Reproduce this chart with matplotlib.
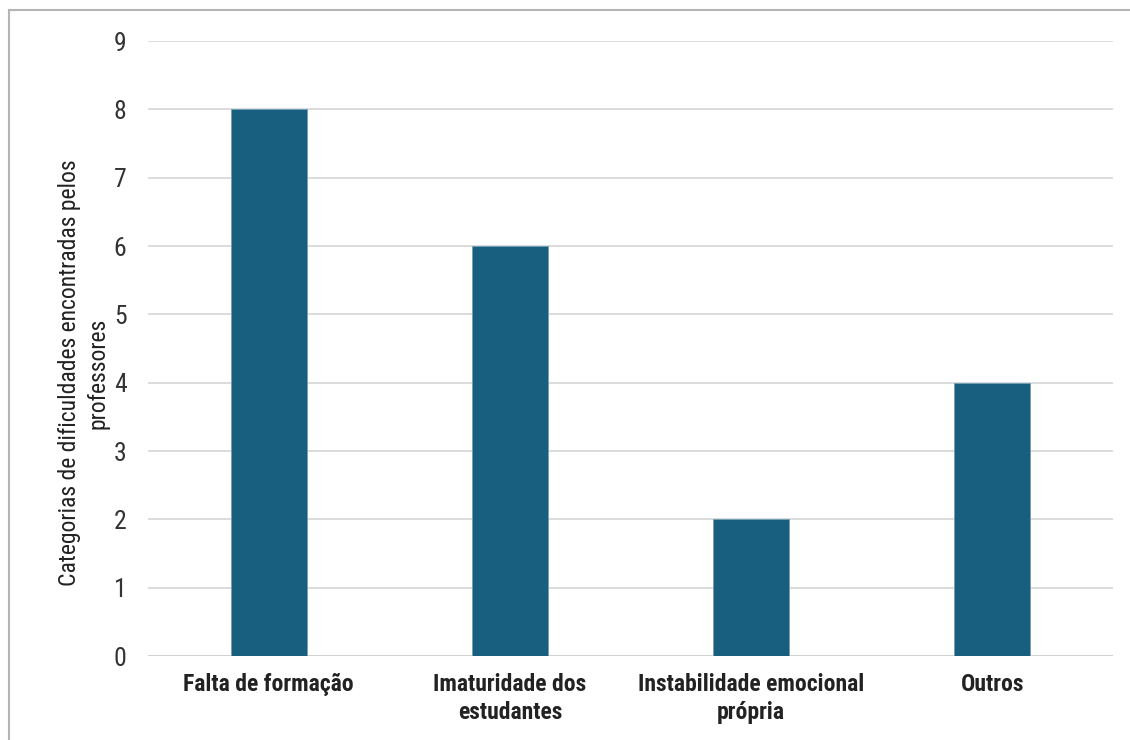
import matplotlib
matplotlib.use("Agg")
import matplotlib.pyplot as plt
from matplotlib.patches import Rectangle

categories = ["Falta de formação", "Imaturidade dos\nestudantes",
              "Instabilidade emocional\nprópria", "Outros"]
values = [8, 6, 2, 4]
yticks = list(range(0, 10))
ylabel = "Categorias de dificuldades encontradas pelos\nprofessores"

plt.rcParams['font.family'] = ['Roboto Condensed', 'DejaVu Sans']

fig = plt.figure(figsize=(11.3, 7.4), dpi=100)
ax = fig.add_axes([148/1130, 1 - 656/740, (1113-148)/1130, (656-41)/740])

x = range(len(categories))
ax.bar(x, values, width=0.315, color="#185f7f", edgecolor="#6f9fb8",
       linewidth=0.6, zorder=3)

ax.set_xlim(-0.5, len(categories) - 0.5)
ax.set_ylim(0, 9)
ax.set_yticks(yticks)
ax.set_yticklabels([str(t) for t in yticks], fontsize=18.5, color="#333333")
ax.set_xticks(list(x))
ax.set_xticklabels(categories, fontsize=17, fontweight="bold", color="#222222",
                   linespacing=1.3)
ax.tick_params(axis="both", length=0)
ax.tick_params(axis="y", pad=15.5)
ax.tick_params(axis="x", pad=12)
ax.grid(axis="y", color="#d9d9d9", linewidth=1.3, zorder=0)
for s in ax.spines.values():
    s.set_visible(False)
ax.axhline(0, color="#d0d0d0", linewidth=1.3, zorder=2)

ax.set_ylabel(ylabel, fontsize=17, color="#222222", linespacing=1.3)
ax.yaxis.set_label_coords(-0.040, 0.46)

# outer frame
fig.patches.append(Rectangle((9/1130, -0.1), 2, 1 - 10/740 + 0.1,
                             transform=fig.transFigure, fill=False,
                             edgecolor="#b5b5b5", linewidth=1.5))

fig.savefig("out.png", dpi=100)
